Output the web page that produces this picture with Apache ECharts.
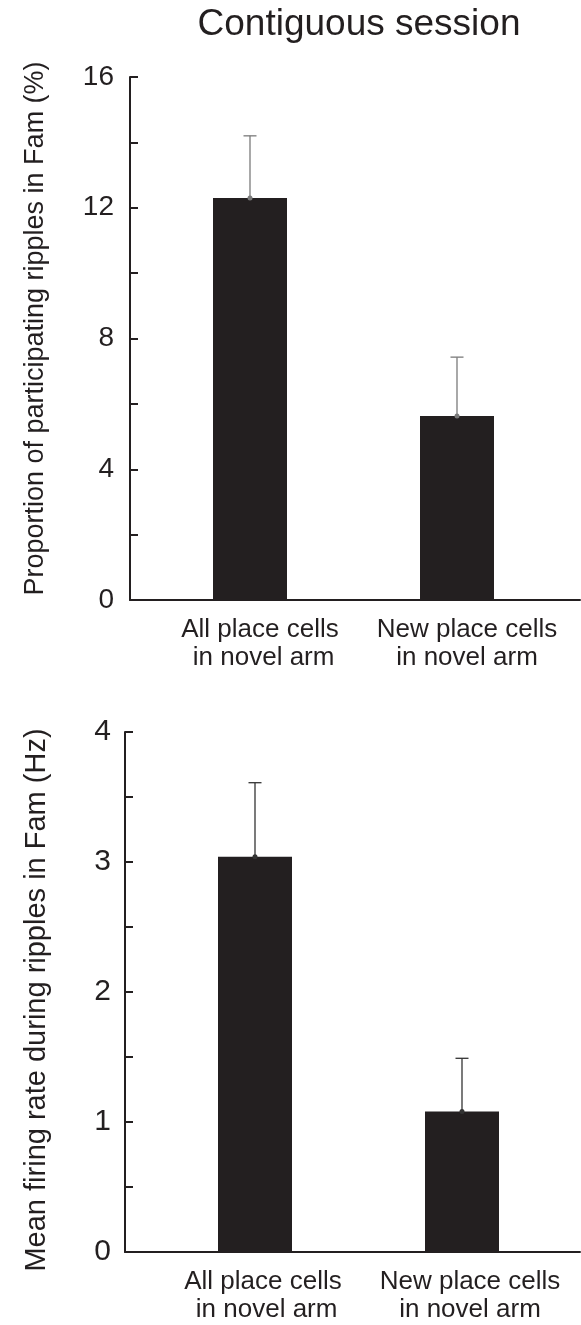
<!DOCTYPE html>
<html>
<head>
<meta charset="utf-8">
<script src="https://cdn.jsdelivr.net/npm/echarts@6/dist/echarts.min.js"></script>
<style>
html,body{margin:0;padding:0;background:#fff;}
#chart{width:581px;height:1325px;}
</style>
</head>
<body>
<div id="chart"></div>
<script>
const titleText = 'Contiguous session';
const categories = ['All place cells\n in novel arm', 'New place cells\nin novel arm'];
const topName = 'Proportion of participating ripples in Fam (%)';
const topMeans = [12.3, 5.63];
const topErrors = [1.9, 1.8];
const topAxis = { min: 0, max: 16, interval: 2, labelEvery: 4 };
const bottomName = 'Mean firing rate during ripples in Fam (Hz)';
const bottomMeans = [3.04, 1.08];
const bottomErrors = [0.57, 0.41];
const bottomAxis = { min: 0, max: 4, interval: 0.5, labelEvery: 1 };

const ink = '#231f20';
const font = 'Liberation Sans, Arial, Helvetica, sans-serif';

function errorRender(color) {
  return function (params, api) {
    const x = api.value(0), m = api.value(1), e = api.value(2);
    const base = api.coord([x, m]);
    const top = api.coord([x, m + e]);
    const style = { stroke: color, lineWidth: 1.3 };
    return {
      type: 'group',
      children: [
        { type: 'line', shape: { x1: base[0], y1: base[1], x2: top[0], y2: top[1] }, style: style },
        { type: 'line', shape: { x1: top[0] - 6.5, y1: top[1], x2: top[0] + 6.5, y2: top[1] }, style: style },
        { type: 'circle', shape: { cx: base[0], cy: base[1], r: 2.5 }, style: { fill: color } }
      ]
    };
  };
}

function yAxisDef(gridIndex, ax, name, nameGap, nameSize, namePad, labelSize, labelMargin, visible) {
  return {
    type: 'value', gridIndex: gridIndex, min: ax.min, max: ax.max, interval: ax.interval,
    show: visible,
    name: visible ? name : '', nameLocation: 'middle', nameGap: nameGap,
    nameTextStyle: { fontSize: nameSize, color: ink, fontFamily: font, padding: namePad },
    axisLine: { show: true, lineStyle: { color: ink, width: 2 } },
    axisTick: { show: true, inside: true, length: 8, lineStyle: { color: ink, width: 2 } },
    splitLine: { show: false },
    axisLabel: {
      fontSize: labelSize, color: ink, fontFamily: font, margin: labelMargin,
      formatter: function (v) { return (Math.abs(v / ax.labelEvery - Math.round(v / ax.labelEvery)) < 1e-6) ? String(v) : ''; }
    }
  };
}

function frameX(gridIndex) {
  return {
    type: 'category', gridIndex: gridIndex, data: [''],
    axisLine: { show: true, lineStyle: { color: ink, width: 2 } },
    axisTick: { show: false }, axisLabel: { show: false }
  };
}
function barsX(gridIndex, padLeft) {
  return {
    type: 'category', gridIndex: gridIndex, data: categories,
    axisLine: { show: false }, axisTick: { show: false },
    axisLabel: { fontSize: 26, lineHeight: 28, color: ink, fontFamily: font, margin: 16, padding: [0, 0, 0, padLeft], interval: 0 }
  };
}

const chart = echarts.init(document.getElementById('chart'), null, { renderer: 'canvas' });
chart.setOption({
  animation: false,
  backgroundColor: '#fff',
  title: {
    text: titleText, left: 354, top: 1, textAlign: 'center',
    textStyle: { fontSize: 37, fontWeight: 'normal', color: ink, fontFamily: font }
  },
  grid: [
    { left: 130, top: 77, width: 450, height: 523 },
    { left: 146.5, top: 77, width: 414, height: 523 },
    { left: 125, top: 732, width: 455, height: 520 },
    { left: 151.5, top: 732, width: 414, height: 520 }
  ],
  xAxis: [frameX(0), barsX(1, 20), frameX(2), barsX(3, 16)],
  yAxis: [
    yAxisDef(0, topAxis, topName, 81, 27, [0, 0, 0, 20], 28, 16, true),
    yAxisDef(1, topAxis, '', 0, 27, 0, 28, 16, false),
    yAxisDef(2, bottomAxis, bottomName, 74, 29, [0, 16, 0, 0], 30, 14, true),
    yAxisDef(3, bottomAxis, '', 0, 29, 0, 30, 14, false)
  ],
  series: [
    { type: 'bar', xAxisIndex: 1, yAxisIndex: 1, data: topMeans, barWidth: 74, itemStyle: { color: ink } },
    { type: 'custom', xAxisIndex: 1, yAxisIndex: 1, renderItem: errorRender('#7a7a7a'),
      data: topMeans.map(function (m, i) { return [i, m, topErrors[i]]; }), encode: { x: 0, y: 1 }, z: 3 },
    { type: 'bar', xAxisIndex: 3, yAxisIndex: 3, data: bottomMeans, barWidth: 74, itemStyle: { color: ink } },
    { type: 'custom', xAxisIndex: 3, yAxisIndex: 3, renderItem: errorRender('#333333'),
      data: bottomMeans.map(function (m, i) { return [i, m, bottomErrors[i]]; }), encode: { x: 0, y: 1 }, z: 3 }
  ]
});
</script>
</body>
</html>
